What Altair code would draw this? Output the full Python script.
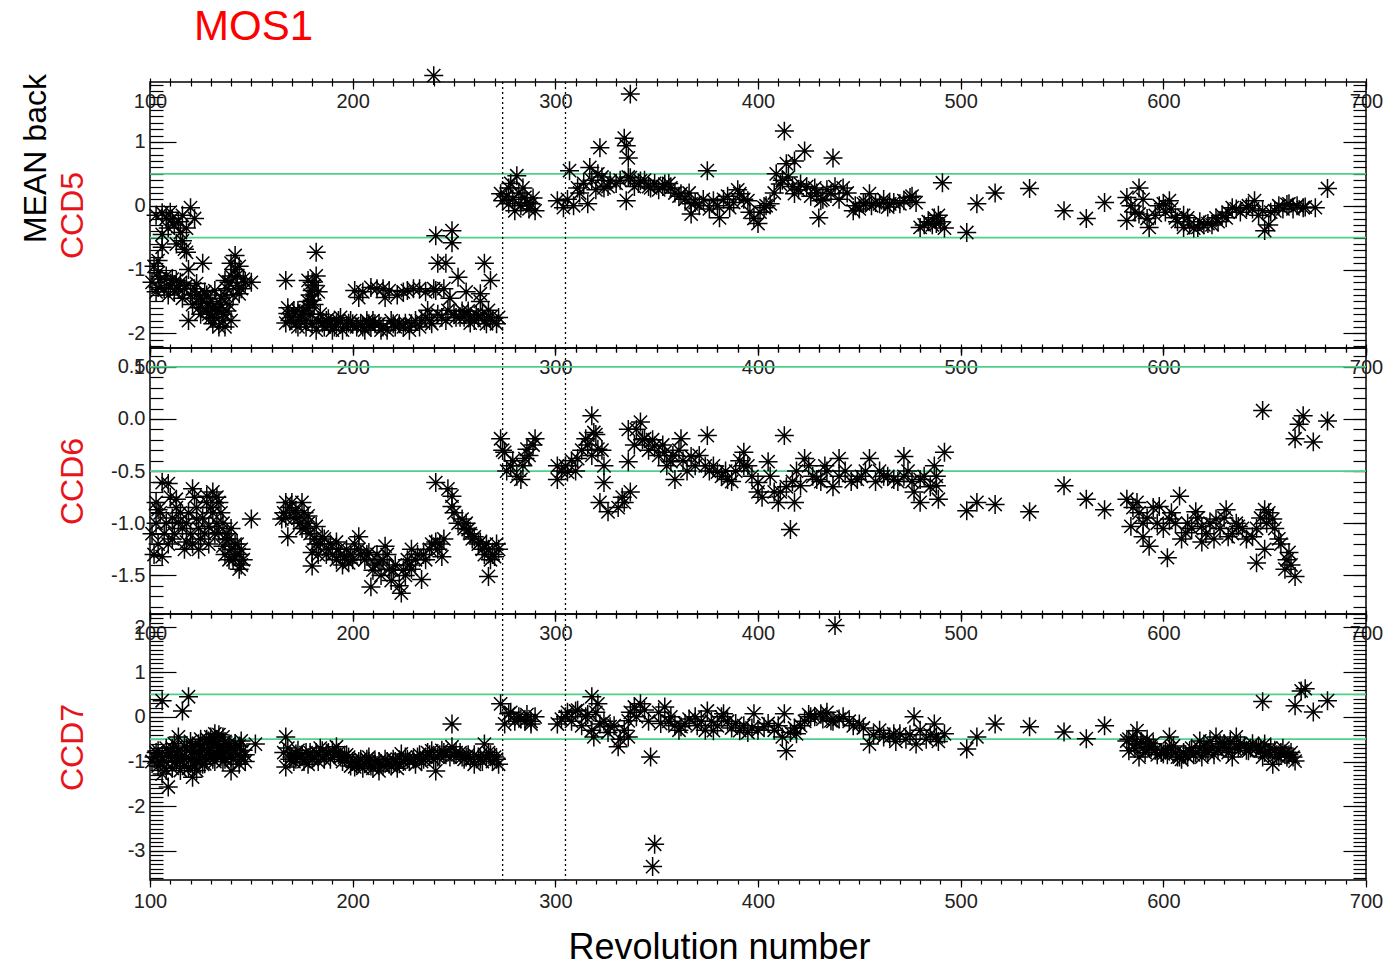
import altair as alt
import pandas as pd

# ---------------- data ----------------
# CCD5 : (revolution, mean background)
ccd5_early = [
    (106, -0.11), (111, -0.2), (120, -0.03), (122, -0.2), (115, -0.42), (116, -0.55), (118, -0.73),
    (104, -0.86), (126, -0.9), (142, -0.78), (140, -0.9), (113, -1.17), (123, -1.22), (104, -1.28),
    (132, -1.33), (137, -1.17), (144, -1.38), (150, -1.2), (128, -1.53), (119, -1.8), (130, -1.75),
    (137, -1.9), (140, -1.8), (134, -1.64), (108, -1.1), (110, -1.25), (112, -1.35), (115, -1.2),
    (117, -1.3), (120, -1.4), (122, -1.3), (125, -1.45), (127, -1.35), (130, -1.5), (133, -1.6),
    (135, -1.45), (138, -1.3), (140, -1.1), (142, -1.0), (136, -1.7), (131, -1.85), (128, -1.65),
    (125, -1.7), (139, -1.55), (143, -1.25), (146, -1.15), (102, -0.95), (104, -1.05), (103, -0.15),
    (108, -0.2), (112, -0.3), (118, -0.35), (113, -0.6), (106, -0.45), (106, -0.65), (117, -0.68),
    (101, -1.2), (103, -1.35), (105, -1.15), (107, -1.3), (109, -1.4), (111, -1.15), (114, -1.3),
    (116, -1.45), (118, -1.25), (121, -1.55), (123, -1.4), (124, -1.6), (126, -1.5), (129, -1.7),
    (131, -1.6), (132, -1.75), (134, -1.9), (135, -1.55), (137, -1.4), (138, -1.65), (139, -1.2),
    (141, -1.4), (143, -1.1), (144, -0.95), (145, -1.3), (147, -1.2), (136, -1.8), (128, -1.4),
    (119, -1.0), (110, -0.1), (114, -0.25), (116, -0.15), (109, -0.35),
]
ccd5_mid = [
    (167, -1.17), (182, -0.73), (178, -1.17), (180, -1.33), (180, -1.48), (168, -1.69), (167, -1.84),
    (173, -1.64), (177, -1.8), (185, -1.84), (191, -1.9), (198, -1.84), (188, -1.77), (201, -1.33),
    (203, -1.44), (209, -1.28), (218, -1.33), (216, -1.44), (227, -1.33), (209, -1.9), (214, -1.95),
    (221, -1.9), (226, -1.84), (234, -1.8), (237, -1.64), (241, -1.33), (242, -0.9), (241, -0.47),
    (249, -0.39), (249, -0.58), (246, -0.9), (252, -1.12), (247, -1.64), (253, -1.75), (258, -1.84),
    (265, -0.9), (268, -1.17), (263, -1.38), (267, -1.64), (272, -1.75), (262, -1.75), (170, -1.75),
    (172, -1.85), (175, -1.7), (178, -1.6), (181, -1.55), (183, -1.8), (186, -1.9), (189, -1.85),
    (193, -1.8), (195, -1.95), (200, -1.85), (205, -1.9), (207, -1.8), (211, -1.85), (215, -1.9),
    (219, -1.8), (223, -1.85), (228, -1.95), (231, -1.8), (236, -1.75), (239, -1.85), (244, -1.75),
    (250, -1.7), (255, -1.75), (257, -1.65), (260, -1.8), (264, -1.7), (266, -1.85), (269, -1.8),
    (179, -1.4), (181, -1.25), (182, -1.1), (178, -1.5), (205, -1.35), (212, -1.3), (222, -1.4),
    (230, -1.3), (236, -1.35), (245, -1.3), (248, -1.45), (256, -1.35), (263, -1.5), (240, 2.04),
    (168, -1.6), (169, -1.8), (171, -1.65), (173, -1.9), (174, -1.8), (176, -1.65), (177, -1.9),
    (179, -1.7), (180, -1.85), (182, -1.95), (184, -1.7), (187, -1.8), (190, -1.95), (192, -1.85),
    (194, -1.75), (197, -1.9), (199, -1.8), (202, -1.9), (204, -1.85), (206, -1.95), (208, -1.85),
    (210, -1.8), (213, -1.85), (217, -1.95), (220, -1.85), (225, -1.9), (229, -1.85), (233, -1.9),
    (238, -1.8), (242, -1.7), (246, -1.8), (251, -1.75), (254, -1.65), (258, -1.75), (261, -1.7),
    (265, -1.8), (268, -1.75), (271, -1.85), (180, -1.2), (183, -1.35), (215, -1.3), (225, -1.35),
    (233, -1.3), (240, -1.3),
]
ccd5_late = [
    (281, 0.47), (273, 0.19), (277, 0.03), (280, -0.08), (285, 0.13), (288, 0.03), (290, -0.08),
    (277, 0.28), (284, 0.28), (276, 0.15), (279, 0.1), (282, 0.2), (283, 0.0), (286, 0.05),
    (287, -0.05), (289, 0.12), (274, 0.08), (278, 0.35), (301, 0.08), (304, -0.03), (307, 0.55),
    (311, 0.28), (316, 0.03), (317, 0.6), (322, 0.91), (321, 0.5), (324, 0.28), (327, 0.39),
    (334, 1.06), (336, 0.75), (335, 0.94), (337, 1.75), (335, 0.08), (337, 0.44), (342, 0.39),
    (347, 0.28), (354, 0.34), (357, 0.28), (362, 0.19), (367, 0.03), (367, -0.13), (375, 0.55),
    (378, 0.08), (381, -0.19), (386, -0.03), (391, 0.19), (395, 0.08), (400, -0.28), (403, -0.03),
    (406, 0.03), (413, 1.17), (409, 0.5), (414, 0.66), (418, 0.7), (423, 0.86), (411, 0.34),
    (418, 0.19), (421, 0.34), (428, 0.28), (430, -0.19), (431, 0.08), (436, 0.19), (437, 0.75),
    (442, 0.28), (447, -0.08), (452, 0.03), (455, 0.19), (460, 0.03), (465, 0.03),
    (306, 0.1), (309, 0.0), (312, 0.2), (314, 0.35), (318, 0.4), (320, 0.25), (323, 0.45),
    (326, 0.3), (330, 0.35), (332, 0.4), (336, 0.45), (339, 0.3), (341, 0.35), (344, 0.4),
    (346, 0.3), (349, 0.35), (351, 0.25), (353, 0.3), (356, 0.35), (359, 0.2), (361, 0.15),
    (364, 0.1), (366, 0.2), (369, 0.05), (371, 0.0), (373, 0.1), (376, -0.05), (380, 0.0),
    (383, 0.1), (385, 0.15), (388, 0.05), (390, 0.25), (393, 0.1), (396, -0.1), (398, -0.2),
    (401, -0.1), (404, 0.0), (408, 0.2), (412, 0.4), (415, 0.45), (417, 0.3), (420, 0.25),
    (424, 0.3), (426, 0.15), (429, 0.2), (432, 0.1), (434, 0.25), (438, 0.3), (440, 0.1),
    (444, 0.2), (448, 0.0), (450, -0.05), (453, 0.05), (456, 0.0), (458, 0.05), (462, 0.1),
    (464, -0.02), (467, 0.05), (470, 0.03), (475, 0.13), (480, -0.34), (487, -0.19), (488, -0.28),
    (491, 0.36), (472, 0.08), (476, 0.15), (478, 0.05), (482, -0.3), (484, -0.25), (486, -0.3),
    (489, -0.15), (490, -0.25), (492, -0.35), (503, -0.42), (508, 0.03), (517, 0.2), (534, 0.27),
    (551, -0.08), (562, -0.2), (571, 0.05), (582, 0.13), (582, -0.23), (588, 0.28), (588, -0.13),
    (593, -0.34), (600, 0.03), (603, 0.08), (606, -0.19), (610, -0.34), (612, -0.19), (617, -0.34),
    (622, -0.28), (626, -0.19), (631, -0.19), (634, -0.03), (641, -0.03), (645, 0.08), (650, -0.39),
    (649, -0.08), (655, -0.08), (662, 0.03), (669, -0.03), (675, -0.03), (681, 0.27),
    (584, 0.0), (586, -0.1), (590, 0.1), (592, -0.2), (596, -0.15), (598, 0.0), (601, -0.1),
    (604, -0.05), (607, -0.25), (610, -0.15), (613, -0.3), (615, -0.35), (618, -0.25), (620, -0.3),
    (624, -0.3), (627, -0.25), (629, -0.15), (632, -0.1), (636, -0.05), (638, -0.1), (642, 0.0),
    (644, -0.05), (647, -0.15), (652, -0.3), (653, -0.1), (657, 0.0), (659, -0.05), (661, 0.02),
    (664, -0.05), (666, 0.0), (670, -0.02),
]

# CCD6
ccd6_early = [
    (106, -0.61), (109, -0.62), (104, -0.87), (106, -1.32), (113, -0.77), (114, -0.99), (111, -1.15),
    (118, -1.18), (121, -0.67), (123, -0.96), (124, -1.25), (128, -0.74), (131, -0.7), (134, -0.8),
    (129, -1.03), (134, -1.09), (136, -1.22), (139, -1.15), (142, -1.32), (144, -1.44), (145, -1.25),
    (150, -0.96), (103, -1.0), (105, -0.9), (107, -1.1), (109, -1.2), (111, -0.95), (113, -0.85),
    (116, -1.05), (117, -1.25), (119, -0.9), (120, -1.1), (123, -0.85), (125, -1.15), (126, -0.95),
    (128, -0.8), (129, -1.2), (131, -0.9), (132, -1.1), (133, -0.75), (136, -1.0), (137, -1.3),
    (138, -1.1), (140, -1.25), (141, -1.35), (143, -1.2), (146, -1.35), (102, -1.3), (104, -1.2),
    (101, -1.1), (103, -0.8), (108, -1.0), (110, -0.75), (112, -1.1), (115, -0.9), (118, -1.0),
    (121, -1.2), (122, -0.75), (124, -1.05), (127, -1.1), (130, -0.85), (133, -1.0), (135, -0.9),
    (137, -1.15), (139, -1.35), (140, -1.05), (142, -1.2), (144, -1.3), (145, -1.4),
]
ccd6_mid = [
    (167, -0.8), (165, -0.96), (168, -1.13), (175, -0.8), (178, -0.93), (182, -1.03), (180, -1.28),
    (180, -1.41), (185, -1.13), (192, -1.18), (196, -1.32), (198, -1.38), (203, -1.13), (208, -1.28),
    (209, -1.61), (213, -1.38), (216, -1.22), (218, -1.44), (224, -1.67), (229, -1.25), (229, -1.44),
    (234, -1.54), (241, -1.18), (244, -1.32), (241, -0.61), (247, -0.67), (249, -0.74), (249, -0.84),
    (254, -0.96), (257, -1.06), (260, -1.13), (263, -1.18), (267, -1.25), (270, -1.32), (267, -1.51),
    (272, -1.25), (166, -0.9), (169, -0.85), (171, -0.95), (172, -0.88), (174, -1.0), (176, -0.9),
    (177, -1.05), (179, -1.1), (182, -1.2), (183, -1.3), (186, -1.15), (188, -1.25), (190, -1.3),
    (193, -1.25), (195, -1.4), (199, -1.3), (201, -1.2), (204, -1.3), (206, -1.35), (210, -1.45),
    (212, -1.3), (214, -1.5), (219, -1.55), (221, -1.4), (223, -1.6), (226, -1.5), (227, -1.35),
    (232, -1.3), (236, -1.35), (238, -1.25), (243, -1.2), (245, -1.15), (250, -0.9), (252, -1.0),
    (255, -1.05), (258, -1.1), (262, -1.2), (265, -1.3), (268, -1.35), (271, -1.2),
    (167, -0.95), (170, -0.8), (173, -0.95), (175, -1.05), (178, -1.0), (181, -1.15), (184, -1.2),
    (187, -1.3), (189, -1.2), (192, -1.35), (194, -1.3), (197, -1.25), (200, -1.35), (203, -1.25),
    (207, -1.3), (211, -1.4), (215, -1.35), (217, -1.3), (220, -1.45), (225, -1.45), (228, -1.4),
    (231, -1.35), (235, -1.3), (239, -1.2), (242, -1.25), (256, -1.0), (259, -1.15), (264, -1.25),
    (266, -1.2), (269, -1.3),
]
ccd6_late = [
    (273, -0.19), (275, -0.32), (278, -0.45), (283, -0.58), (286, -0.29), (290, -0.19), (285, -0.38),
    (301, -0.45), (301, -0.58), (306, -0.51), (311, -0.38), (315, -0.19), (318, 0.03), (319, -0.13),
    (321, -0.29), (324, -0.45), (324, -0.61), (322, -0.8), (326, -0.89), (334, -0.8), (337, -0.7),
    (336, -0.41), (336, -0.1), (342, -0.03), (344, -0.19), (349, -0.26), (354, -0.32), (357, -0.41),
    (362, -0.19), (359, -0.58), (367, -0.36), (375, -0.16), (374, -0.45), (380, -0.51), (385, -0.58),
    (393, -0.32), (393, -0.45), (400, -0.61), (400, -0.7), (405, -0.41), (411, -0.7), (413, -0.16),
    (416, -1.06), (418, -0.8), (421, -0.64), (423, -0.38), (429, -0.58), (433, -0.45), (440, -0.38),
    (440, -0.55), (449, -0.58), (455, -0.38), (462, -0.55), (467, -0.58), (472, -0.36), (472, -0.55),
    (480, -0.58), (477, -0.7), (480, -0.8), (488, -0.55), (488, -0.64), (492, -0.32), (489, -0.77),
    (274, -0.3), (276, -0.5), (279, -0.4), (281, -0.55), (284, -0.45), (287, -0.35), (289, -0.25),
    (303, -0.5), (305, -0.45), (308, -0.4), (310, -0.5), (313, -0.3), (316, -0.25), (318, -0.35),
    (320, -0.15), (323, -0.3), (331, -0.85), (333, -0.75), (339, -0.25), (340, -0.1), (343, -0.2),
    (346, -0.3), (348, -0.2), (351, -0.35), (353, -0.25), (355, -0.45), (358, -0.35), (361, -0.3),
    (363, -0.4), (365, -0.5), (369, -0.45), (371, -0.35), (376, -0.5), (378, -0.45), (382, -0.55),
    (384, -0.5), (387, -0.6), (389, -0.5), (391, -0.4), (395, -0.45), (397, -0.55), (402, -0.75),
    (406, -0.55), (408, -0.7), (410, -0.8), (414, -0.65), (417, -0.6), (419, -0.5), (425, -0.45),
    (427, -0.55), (431, -0.6), (434, -0.5), (437, -0.65), (443, -0.5), (446, -0.6), (451, -0.55),
    (453, -0.5), (458, -0.6), (460, -0.5), (464, -0.55), (469, -0.6), (474, -0.5), (476, -0.6),
    (482, -0.55), (485, -0.65), (487, -0.45), (503, -0.88), (508, -0.8), (517, -0.82), (534, -0.89),
    (551, -0.64), (562, -0.77), (571, -0.87), (582, -0.77), (587, -0.8), (584, -1.03), (590, -1.13),
    (593, -1.22), (598, -0.84), (603, -0.96), (602, -1.33), (608, -0.74), (611, -1.09), (616, -0.89),
    (619, -1.03), (619, -1.18), (626, -0.96), (631, -0.87), (632, -1.13), (637, -1.03), (644, -1.13),
    (646, -1.38), (650, -0.87), (654, -0.96), (650, -1.25), (657, -1.15), (662, -1.28), (660, -1.44),
    (665, -1.51), (649, 0.08), (669, 0.03), (667, -0.05), (665, -0.19), (674, -0.22), (681, -0.02),
    (585, -0.85), (588, -0.9), (590, -1.0), (592, -0.95), (595, -0.85), (597, -1.0), (600, -1.05),
    (604, -0.9), (606, -1.0), (609, -1.15), (612, -1.0), (614, -1.05), (617, -0.95), (621, -1.1),
    (623, -1.0), (625, -1.15), (628, -1.05), (630, -0.95), (634, -1.1), (636, -1.0), (639, -1.05),
    (641, -1.15), (646, -1.05), (648, -0.95), (651, -1.0), (652, -0.9), (655, -1.05), (658, -1.2),
    (661, -1.35), (663, -1.4),
]

# CCD7
ccd7_early = [
    (106, 0.36), (119, 0.45), (116, 0.13), (104, -0.76), (106, -1.28), (109, -1.57), (114, -0.45),
    (113, -0.99), (121, -1.35), (121, -0.76), (129, -0.54), (132, -0.38), (135, -0.9), (139, -0.67),
    (144, -1.06), (145, -0.54), (126, -1.06), (132, -0.83), (140, -1.21), (152, -0.61),
    (102, -0.9), (104, -1.1), (107, -1.0), (108, -0.7), (110, -0.8), (111, -1.15), (112, -0.6),
    (114, -0.75), (115, -1.0), (117, -0.65), (118, -0.9), (119, -1.15), (120, -0.55), (122, -0.8),
    (123, -1.0), (124, -0.6), (126, -0.75), (127, -0.9), (128, -0.5), (130, -0.7), (131, -0.95),
    (133, -0.6), (134, -0.75), (136, -1.0), (137, -0.55), (138, -0.8), (140, -0.7), (141, -0.95),
    (142, -0.6), (143, -0.85), (146, -0.75), (147, -1.0), (134, -0.4), (130, -0.45), (125, -0.5),
    (101, -1.0), (103, -0.8), (105, -1.0), (106, -0.9), (108, -1.2), (109, -0.9), (111, -0.7),
    (112, -1.0), (113, -0.85), (116, -0.9), (117, -1.1), (118, -0.7), (120, -0.95), (121, -0.65),
    (122, -1.1), (124, -0.85), (125, -0.7), (127, -0.6), (128, -0.95), (129, -0.8), (131, -0.6),
    (132, -1.0), (133, -0.85), (135, -0.65), (136, -0.8), (137, -0.95), (139, -0.6), (140, -0.9),
    (142, -0.75), (144, -0.65), (145, -0.9), (147, -0.85), (136, -0.45), (132, -0.5), (127, -1.05),
    (123, -1.2), (115, -1.2),
]
ccd7_mid = [
    (167, -0.45), (167, -1.12), (172, -0.83), (178, -1.06), (185, -0.76), (192, -0.67), (196, -0.9),
    (201, -1.12), (208, -0.9), (213, -1.21), (218, -1.06), (224, -0.83), (231, -1.06), (239, -0.76),
    (241, -1.21), (249, -0.16), (249, -0.67), (254, -0.9), (260, -1.06), (265, -0.61), (270, -0.9),
    (272, -1.06), (168, -0.7), (170, -0.9), (171, -1.0), (173, -0.75), (175, -0.85), (176, -1.0),
    (179, -0.8), (181, -0.9), (183, -1.0), (184, -0.7), (187, -0.85), (189, -0.95), (190, -0.75),
    (193, -0.8), (195, -1.0), (198, -0.9), (199, -1.1), (203, -1.0), (205, -1.15), (207, -0.95),
    (209, -1.1), (211, -1.0), (214, -1.05), (216, -0.95), (219, -1.1), (221, -1.0), (222, -1.15),
    (226, -0.9), (228, -1.0), (233, -0.85), (235, -0.95), (237, -0.8), (242, -0.9), (244, -0.75),
    (246, -0.85), (251, -0.8), (255, -0.95), (257, -0.85), (262, -0.9), (264, -1.0), (267, -0.8),
    (269, -1.0), (166, -0.8), (169, -0.95), (172, -0.95), (174, -0.9), (177, -0.8), (180, -0.95),
    (182, -0.8), (186, -0.95), (188, -0.8), (191, -0.85), (194, -0.9), (197, -0.85), (200, -1.0),
    (202, -1.05), (204, -0.95), (206, -1.05), (208, -1.0), (210, -1.15), (213, -1.0), (215, -1.1),
    (217, -1.0), (220, -0.95), (223, -1.05), (225, -1.0), (227, -0.95), (230, -0.95), (232, -0.9),
    (234, -1.0), (236, -0.9), (238, -0.85), (240, -0.95), (243, -0.85), (245, -0.8), (248, -0.9),
    (250, -0.85), (253, -0.8), (256, -0.9), (258, -0.95), (260, -0.85), (263, -0.95), (266, -0.9),
    (268, -0.85), (271, -0.95),
]
ccd7_late = [
    (273, 0.29), (277, 0.07), (275, -0.16), (282, 0.0), (285, -0.09), (288, -0.16), (290, 0.0),
    (301, -0.16), (305, 0.0), (310, 0.13), (315, 0.0), (318, 0.45), (321, 0.29), (319, -0.45),
    (322, -0.16), (327, -0.22), (331, -0.67), (336, -0.45), (336, -0.09), (339, 0.22), (342, 0.29),
    (347, -0.9), (349, -2.85), (348, -3.35), (354, 0.22), (357, 0.0), (362, -0.22), (369, 0.0),
    (375, 0.13), (378, -0.31), (383, 0.07), (391, -0.31), (398, 0.07), (403, -0.22), (413, 0.07),
    (414, -0.76), (419, -0.38), (426, 0.0), (431, 0.07), (436, -0.09), (442, 0.0), (450, -0.16),
    (455, -0.61), (462, -0.45), (467, -0.38), (438, 2.04), (470, -0.38), (477, 0.0), (478, -0.61),
    (487, -0.16), (488, -0.45), (492, -0.38), (503, -0.72), (508, -0.45), (517, -0.16), (534, -0.22),
    (551, -0.34), (562, -0.49), (571, -0.2), (582, -0.54), (587, -0.31), (583, -0.76), (588, -0.9),
    (593, -0.67), (600, -0.83), (603, -0.45), (608, -0.9), (613, -0.76), (618, -0.54), (619, -0.9),
    (626, -0.45), (629, -0.67), (634, -0.9), (636, -0.45), (642, -0.76), (649, -0.9), (650, -0.61),
    (654, -1.06), (660, -0.83), (665, -0.99), (649, 0.34), (665, 0.25), (668, 0.58), (670, 0.63),
    (674, 0.11), (681, 0.36),
    (278, 0.1), (280, -0.1), (283, -0.05), (286, 0.05), (288, -0.1), (303, -0.05), (306, 0.1),
    (308, -0.1), (311, 0.15), (313, -0.2), (316, 0.05), (318, -0.3), (320, 0.1), (324, -0.1),
    (326, -0.35), (329, -0.2), (332, -0.5), (334, -0.3), (337, 0.1), (340, 0.0), (344, 0.15),
    (346, -0.1), (351, 0.1), (352, -0.15), (356, -0.1), (359, -0.2), (361, -0.3), (364, -0.15),
    (366, -0.05), (370, -0.2), (372, -0.1), (374, -0.3), (377, -0.1), (380, -0.2), (382, 0.0),
    (385, -0.1), (387, -0.25), (389, -0.15), (393, -0.2), (395, -0.35), (397, -0.25), (400, -0.3),
    (405, -0.15), (408, -0.3), (410, -0.2), (412, -0.45), (416, -0.35), (418, -0.25), (421, -0.2),
    (423, -0.1), (425, 0.05), (428, 0.0), (432, -0.05), (434, 0.1), (437, -0.1), (440, -0.05),
    (445, -0.1), (447, -0.2), (452, -0.25), (457, -0.4), (460, -0.3), (465, -0.45), (468, -0.55),
    (473, -0.5), (475, -0.4), (480, -0.3), (483, -0.5), (485, -0.4), (489, -0.55),
    (585, -0.45), (587, -0.6), (590, -0.7), (592, -0.5), (595, -0.6), (597, -0.85), (601, -0.75),
    (605, -0.65), (606, -0.8), (609, -0.95), (611, -0.85), (614, -0.7), (616, -0.8), (621, -0.75),
    (623, -0.55), (625, -0.85), (628, -0.6), (631, -0.7), (633, -0.55), (637, -0.7), (640, -0.65),
    (644, -0.6), (646, -0.7), (648, -0.75), (652, -0.8), (655, -0.75), (657, -0.9), (659, -0.7),
    (662, -0.85), (664, -0.9), (583, -0.5), (586, -0.7), (589, -0.55), (591, -0.8), (594, -0.7),
    (596, -0.75), (599, -0.8), (602, -0.85), (604, -0.7), (607, -0.9), (610, -0.8), (612, -0.9),
    (615, -0.85), (618, -0.7), (620, -0.65), (622, -0.8), (624, -0.7), (627, -0.75), (630, -0.6),
    (632, -0.8), (635, -0.7), (638, -0.6), (641, -0.75), (643, -0.7), (647, -0.65), (650, -0.8),
    (653, -0.7), (656, -0.85), (658, -0.8), (661, -0.9), (663, -0.8),
]

limit_lines = [0.5, -0.5]
dotted_revs = [274, 305]
x_major = [100, 200, 300, 400, 500, 600, 700]
x_minor = list(range(100, 701, 10))

panels = [
    ("CCD5", ccd5_early + ccd5_mid + ccd5_late, [-2.23, 1.94], [-2, -1, 0, 1], "d"),
    ("CCD6", ccd6_early + ccd6_mid + ccd6_late, [-1.87, 0.68], [-1.5, -1.0, -0.5, 0.0, 0.5], ".1f"),
    ("CCD7", ccd7_early + ccd7_mid + ccd7_late, [-3.65, 2.3], [-3, -2, -1, 0, 1, 2], "d"),
]

# ---------------- styling ----------------
W, H = 1216, 266
FONT = "Liberation Sans"
GREEN = "#4fd08a"
ASTER = "M-1,0L1,0M0,-1L0,1M-0.7,-0.7L0.7,0.7M-0.7,0.7L0.7,-0.7"
MINUS_FIX = "replace(datum.label, '\u2212', '-')"
LABEL_STYLE = dict(labelFont=FONT, labelFontSize=20, labelColor="#222222")


def bare(**kw):
    base = dict(title=None, labels=False, domain=False, grid=False, tickColor="black", tickWidth=1.2)
    base.update(kw)
    return alt.Axis(**base)


def panel(name, pts, ydom, ymajor, yfmt, first, last):
    df = pd.DataFrame(pts, columns=["rev", "val"])
    xs = alt.Scale(domain=[100, 700], nice=False, zero=False)
    ys = alt.Scale(domain=ydom, nice=False, zero=False)
    lo, hi = ydom
    yminor = [k / 10 for k in range(int(lo * 10) - 1, int(hi * 10) + 2) if lo <= k / 10 <= hi]

    green = alt.Chart(pd.DataFrame({"val": limit_lines})).mark_rule(
        color=GREEN, strokeWidth=1.8
    ).encode(
        y=alt.Y("val:Q", scale=ys, axis=bare(orient="right", offset=-W, values=ymajor, tickSize=26))
    )

    xaxis_bottom = dict(orient="bottom", values=x_major, tickSize=7, domain=False, grid=False,
                        tickColor="black", tickWidth=1.2, labels=last, labelPadding=4,
                        labelFlush=False, labelOverlap=False, title=None, **LABEL_STYLE)
    if last:
        xaxis_bottom.update(title="Revolution number", titleFontSize=36, titleFont=FONT,
                            titleFontWeight="normal", titleColor="black",
                            titleX=569, titleY=78, titleAlign="center", titleBaseline="alphabetic")
    vlines = alt.Chart(pd.DataFrame({"rev": dotted_revs})).mark_rule(
        color="black", strokeDash=[2, 3], strokeWidth=1.3
    ).encode(x=alt.X("rev:Q", scale=xs, axis=alt.Axis(**xaxis_bottom)))

    pts_layer = alt.Chart(df).mark_point(
        shape=ASTER, filled=False, size=360, strokeWidth=1.5, color="black", opacity=1
    ).encode(
        x=alt.X("rev:Q", scale=xs, axis=alt.Axis(
            orient="bottom", offset=-H, values=x_major, tickSize=7, labelPadding=2,
            domain=False, grid=False, labelFlush=False, labelOverlap=False, title=None,
            tickColor="black", tickWidth=1.2, **LABEL_STYLE)),
        y=alt.Y("val:Q", scale=ys, axis=alt.Axis(
            orient="left", values=ymajor, format=yfmt, labelExpr=MINUS_FIX, ticks=False,
            labelPadding=5, domain=False, grid=False, labelFlush=False, labelOverlap=False,
            title=name, titleColor="#e8141b", titleFontSize=32, titleFont=FONT,
            titleFontWeight="normal", titleX=-68, titleY=H / 2, titleAngle=270,
            titleAlign="center", titleBaseline="alphabetic", **LABEL_STYLE)),
    )

    ghost = alt.Chart(df).mark_point(opacity=0)
    g1 = ghost.encode(
        x=alt.X("rev:Q", scale=xs, axis=bare(orient="bottom", offset=-H, values=x_minor, tickSize=4)),
        y=alt.Y("val:Q", scale=ys, axis=bare(orient="right", offset=-W, values=yminor, tickSize=13)),
    )
    g2 = ghost.encode(
        x=alt.X("rev:Q", scale=xs, axis=bare(orient="bottom", values=x_minor, tickSize=4)),
        y=alt.Y("val:Q", scale=ys, axis=bare(orient="left", offset=-W, values=ymajor, tickSize=23)),
    )
    g3 = ghost.encode(
        x=alt.X("rev:Q", scale=xs, axis=bare(orient="top", values=x_minor, tickSize=4)),
        y=alt.Y("val:Q", scale=ys, axis=bare(orient="left", offset=-W, values=yminor, tickSize=13)),
    )
    layers = [green, vlines, pts_layer, g1, g2, g3]
    if first:
        g4 = ghost.encode(
            x=alt.X("rev:Q", scale=xs, axis=None),
            y=alt.Y("val:Q", scale=ys, axis=alt.Axis(
                orient="left", labels=False, ticks=False, domain=False, grid=False,
                title="MEAN back", titleColor="black", titleFontSize=32, titleFont=FONT,
                titleFontWeight="normal", titleX=-105, titleY=76, titleAngle=270,
                titleAlign="center", titleBaseline="alphabetic")),
        )
        layers.append(g4)
    return alt.layer(*layers).resolve_axis(x="independent", y="independent").properties(
        width=W, height=H
    )


charts = [panel(n, p, d, m, f, i == 0, i == len(panels) - 1) for i, (n, p, d, m, f) in enumerate(panels)]

chart = alt.vconcat(*charts, spacing=0, bounds="flush").properties(
    title=alt.TitleParams("MOS1", anchor="start", frame="group", dx=44, fontSize=42, font=FONT,
                          fontWeight="normal", color="#ff0000", offset=13),
    padding={"left": 18, "top": 6, "right": 0, "bottom": 2},
    background="white",
).configure_view(stroke="black", strokeWidth=1.5)

chart.save("out.html", embed_options={"renderer": "svg", "actions": False})
